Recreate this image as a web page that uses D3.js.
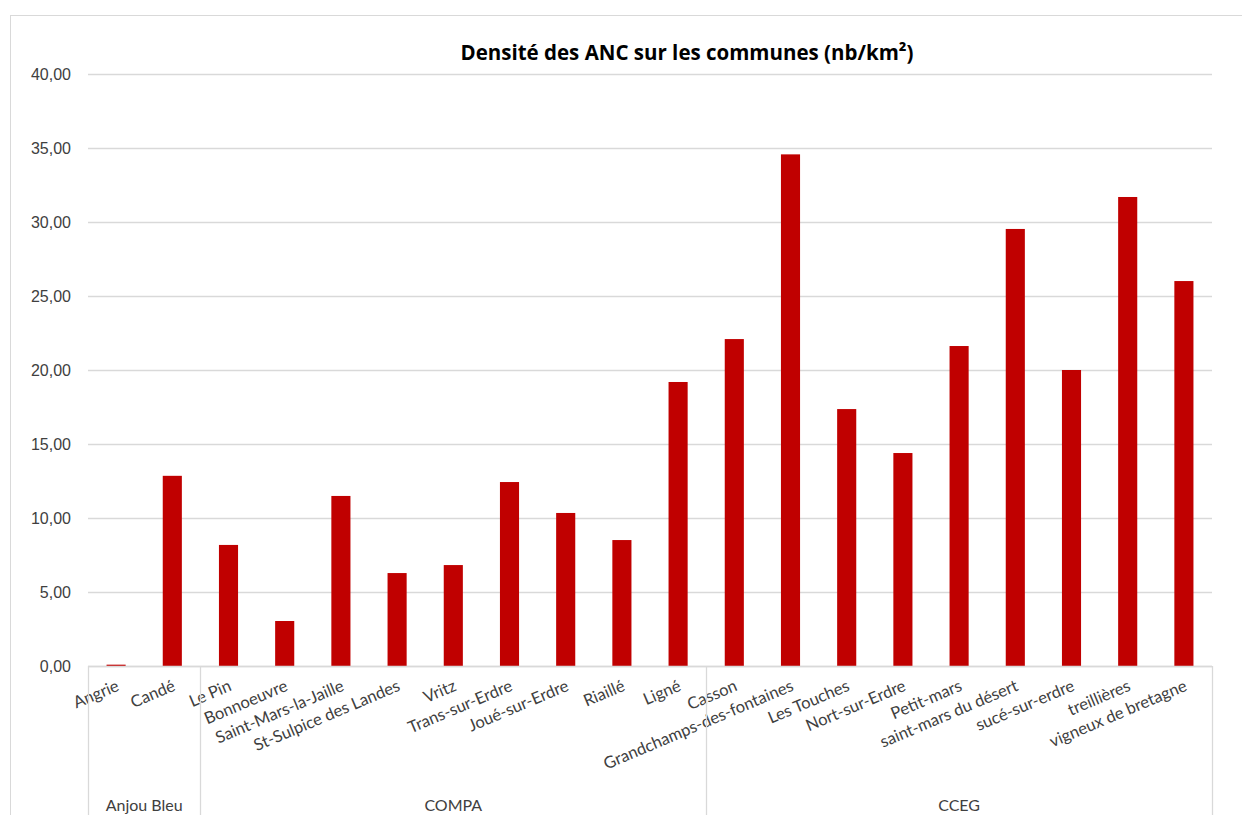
<!DOCTYPE html>
<html>
<head>
<meta charset="utf-8">
<title>Densité des ANC sur les communes</title>
<style>
  body { margin: 0; background: #fff; }
  svg { display: block; font-family: Lato, "Open Sans", sans-serif; }
  .tick text { fill: #404040; font-size: 16px; }
  .cat { fill: #404040; font-size: 16.5px; }
  .grp { fill: #404040; font-size: 16px; }
</style>
</head>
<body>
<div id="chart"></div>
<script src="https://cdn.jsdelivr.net/npm/d3@7"></script>
<script>
// communes, in the order of the chart
var communes = ['Angrie', 'Candé', 'Le Pin', 'Bonnoeuvre', 'Saint-Mars-la-Jaille',
  'St-Sulpice des Landes', 'Vritz', 'Trans-sur-Erdre', 'Joué-sur-Erdre', 'Riaillé',
  'Ligné', 'Casson', 'Grandchamps-des-fontaines', 'Les Touches', 'Nort-sur-Erdre',
  'Petit-mars', 'saint-mars du désert', 'sucé-sur-erdre', 'treillières', 'vigneux de bretagne'];

// ANC density (nb/km²)
var densite = [0.09, 12.85, 8.18, 3.04, 11.49, 6.28, 6.82, 12.43, 10.34, 8.51,
  19.19, 22.09, 34.57, 17.36, 14.39, 21.62, 29.53, 20.00, 31.69, 26.01];

// intercommunality of each commune
var groupeCommune = ['Anjou Bleu', 'Anjou Bleu',
  'COMPA', 'COMPA', 'COMPA', 'COMPA', 'COMPA', 'COMPA', 'COMPA', 'COMPA', 'COMPA',
  'CCEG', 'CCEG', 'CCEG', 'CCEG', 'CCEG', 'CCEG', 'CCEG', 'CCEG', 'CCEG'];
var groupes = ['Anjou Bleu', 'COMPA', 'CCEG'];

var yTicks = [0, 5, 10, 15, 20, 25, 30, 35, 40];

(function (d3) {
  'use strict';

  var width = 1242, height = 815;
  var plotLeft = 88, plotRight = 1212, plotTop = 74, plotBottom = 666;

  var fr = d3.formatLocale({ decimal: ',', thousands: ' ', grouping: [3], currency: ['', ' €'] });
  var fmt = fr.format('.2f');

  var svg = d3.select('#chart').append('svg')
    .attr('width', width)
    .attr('height', height);

  // chart frame
  svg.append('rect')
    .attr('x', 10.5).attr('y', 15.5)
    .attr('width', 1300).attr('height', 900)
    .attr('fill', 'none')
    .attr('stroke', '#d9d9d9');

  var x = d3.scaleBand()
    .domain(communes)
    .range([plotLeft, plotRight])
    .paddingInner(0.66)
    .paddingOuter(0.33);

  var y = d3.scaleLinear()
    .domain([0, 40])
    .range([plotBottom, plotTop]);

  // y axis + grid
  var yAxis = svg.append('g')
    .attr('transform', 'translate(' + plotLeft + ',0)')
    .call(d3.axisLeft(y).tickValues(yTicks).tickFormat(fmt)
      .tickSize(-(plotRight - plotLeft)).tickPadding(17));
  yAxis.select('.domain').remove();
  yAxis.selectAll('.tick line').attr('stroke', '#d9d9d9').attr('stroke-width', 1.3);

  // bars
  svg.selectAll('.bar')
    .data(communes)
    .enter()
    .append('rect')
    .attr('class', 'bar')
    .attr('x', function (d) { return x(d); })
    .attr('width', x.bandwidth())
    .attr('y', function (d, i) { return y(densite[i]); })
    .attr('height', function (d, i) { return y(0) - y(densite[i]); })
    .attr('fill', '#c00000');

  // category axis line
  svg.append('line')
    .attr('x1', plotLeft).attr('x2', plotRight)
    .attr('y1', y(0) + 0.5).attr('y2', y(0) + 0.5)
    .attr('stroke', '#d9d9d9').attr('stroke-width', 1.3);

  // rotated commune labels
  svg.selectAll('.cat')
    .data(communes)
    .enter()
    .append('text')
    .attr('class', 'cat')
    .attr('text-anchor', 'end')
    .attr('transform', function (d) {
      return 'translate(' + (x(d) + x.bandwidth() / 2 + 4) + ',' + (y(0) + 24) + ') rotate(-23)';
    })
    .text(function (d) { return d; });

  // group separators and labels
  var half = (x.step() - x.bandwidth()) / 2;
  var bounds = groupes.map(function (g) {
    var members = communes.filter(function (c, i) { return groupeCommune[i] === g; });
    var x0 = x(members[0]) - half;
    var x1 = x(members[members.length - 1]) + x.bandwidth() + half;
    return { name: g, x0: x0, x1: x1 };
  });

  var seps = [bounds[0].x0].concat(bounds.map(function (b) { return b.x1; }));
  svg.selectAll('.sep')
    .data(seps)
    .enter()
    .append('line')
    .attr('class', 'sep')
    .attr('x1', function (d) { return Math.round(d) + 0.5; })
    .attr('x2', function (d) { return Math.round(d) + 0.5; })
    .attr('y1', y(0))
    .attr('y2', height)
    .attr('stroke', '#d9d9d9').attr('stroke-width', 1.3);

  svg.selectAll('.grp')
    .data(bounds)
    .enter()
    .append('text')
    .attr('class', 'grp')
    .attr('text-anchor', 'middle')
    .attr('x', function (d) { return (d.x0 + d.x1) / 2; })
    .attr('y', 811)
    .text(function (d) { return d.name; });

  // title
  svg.append('text')
    .attr('x', 687)
    .attr('y', 60)
    .attr('text-anchor', 'middle')
    .attr('font-family', '"Open Sans", sans-serif')
    .attr('font-size', '20.5px')
    .attr('font-weight', 'bold')
    .attr('fill', '#000')
    .text('Densité des ANC sur les communes (nb/km²)');
})(window.d3);
</script>
</body>
</html>
